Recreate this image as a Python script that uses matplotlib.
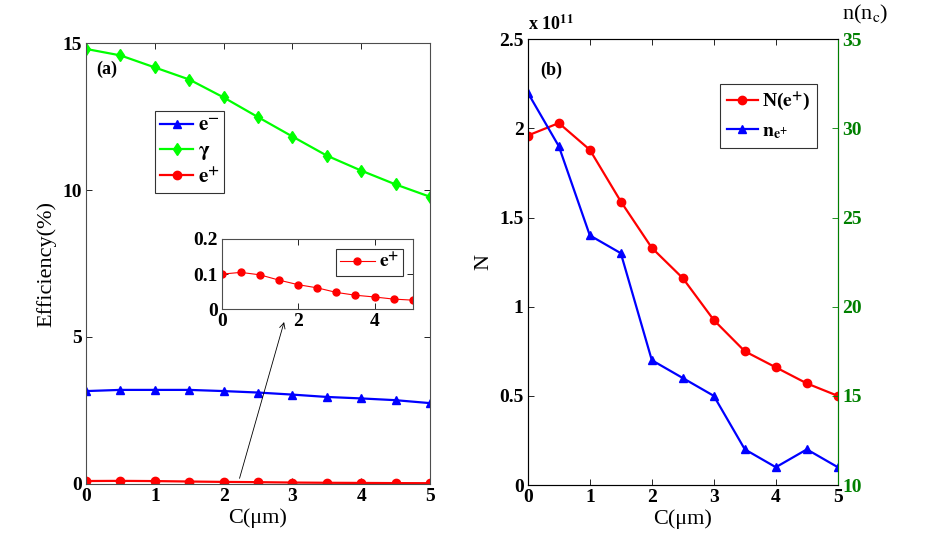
import matplotlib
matplotlib.use("Agg")
import matplotlib.pyplot as plt

plt.rcParams['font.family'] = ['Liberation Serif', 'DejaVu Serif']
plt.rcParams['mathtext.fontset'] = 'stix'
plt.rcParams['xtick.direction'] = 'in'
plt.rcParams['ytick.direction'] = 'in'

# data
C = [0, 0.5, 1, 1.5, 2, 2.5, 3, 3.5, 4, 4.5, 5]
eff_eminus = [3.16, 3.20, 3.20, 3.20, 3.16, 3.11, 3.04, 2.96, 2.91, 2.85, 2.75]
eff_gamma = [14.80, 14.58, 14.17, 13.76, 13.15, 12.48, 11.82, 11.17, 10.66, 10.19, 9.77]
eff_eplus = [0.100, 0.105, 0.098, 0.083, 0.070, 0.061, 0.048, 0.040, 0.035, 0.029, 0.026]
N_eplus = [1.96, 2.03, 1.88, 1.59, 1.33, 1.16, 0.925, 0.75, 0.66, 0.57, 0.50]  # x 1e11
n_eplus = [32, 29, 24, 23, 17, 16, 15, 12, 11, 12, 11]  # n_c

green = (0, 1, 0)
dgreen = (0, 0.5, 0)

fig = plt.figure(figsize=(9.26, 5.45), dpi=100)

def style(ax, size=14):
    for lab in ax.get_xticklabels() + ax.get_yticklabels():
        lab.set_fontweight('bold')
        lab.set_fontsize(size)
    ax.tick_params(top=True, right=True, length=4, width=0.6, pad=3)
    for s in ax.spines.values():
        s.set_linewidth(0.8)
        s.set_color('0.3')

# ---- panel (a)
ax1 = fig.add_axes([0.0929, 0.112, 0.3715, 0.809])
ax1.plot(C, eff_eminus, '-^', color='b', lw=1.6, ms=6, label='$\\mathbf{e^{-}}$')
ax1.plot(C, eff_gamma, '-d', color=green, lw=1.6, ms=6, label='$\\mathbf{\\gamma}$')
ax1.plot(C, eff_eplus, '-o', color='r', lw=1.6, ms=6, label='$\\mathbf{e^{+}}$')
ax1.set_xlim(0, 5)
ax1.set_ylim(0, 15)
ax1.set_xticks([0, 1, 2, 3, 4, 5])
ax1.set_yticks([0, 5, 10, 15])
ax1.set_xlabel('C(μm)', fontsize=16, labelpad=2)
ax1.set_ylabel('Efficiency(%)', fontsize=16, labelpad=4)
style(ax1)
ax1.text(0.03, 0.93, '(a)', transform=ax1.transAxes, fontsize=13, fontweight='bold')
leg = ax1.legend(loc='upper left', bbox_to_anchor=(0.2, 0.845), fancybox=False,
                 edgecolor='k', fontsize=15, handlelength=1.6, borderpad=0.25,
                 labelspacing=0.25, handletextpad=0.2, borderaxespad=0)
leg.get_frame().set_linewidth(0.8)
ax1.annotate('', xy=(2.89, 5.6), xytext=(2.22, 0.1),
             arrowprops=dict(arrowstyle='->', color='k', lw=0.6))

# inset
axi = fig.add_axes([0.2394, 0.4325, 0.2063, 0.129])
axi.plot(C, eff_eplus, '-o', color='r', lw=0.8, ms=5, label='$\\mathbf{e^{+}}$')
axi.set_xlim(0, 5)
axi.set_ylim(0, 0.2)
axi.set_xticks([0, 2, 4])
axi.set_yticks([0, 0.1, 0.2])
axi.set_yticklabels(['0', '0.1', '0.2'])
style(axi, 14)
legi = axi.legend(loc='upper right', fancybox=False, edgecolor='k', fontsize=14,
                  handlelength=1.8, borderpad=0.2, handletextpad=0.2)
legi.get_frame().set_linewidth(0.8)

# ---- panel (b)
ax2 = fig.add_axes([0.570, 0.110, 0.3348, 0.818])
l1, = ax2.plot(C, N_eplus, '-o', color='r', lw=1.6, ms=6, label='N($\\mathbf{e^{+}}$)')
ax2.set_xlim(0, 5)
ax2.set_ylim(0, 2.5)
ax2.set_xticks([0, 1, 2, 3, 4, 5])
ax2.set_yticks([0, 0.5, 1, 1.5, 2, 2.5])
ax2.set_yticklabels(['0', '0.5', '1', '1.5', '2', '2.5'])
ax2.set_xlabel('C(μm)', fontsize=16, labelpad=2)
ax2.set_ylabel('N', fontsize=16, labelpad=4)
style(ax2)
ax2.tick_params(right=False)
ax2.text(0.0, 1.012, 'x 10$^{\\mathbf{11}}$', transform=ax2.transAxes,
         fontsize=13, fontweight='bold', va='bottom')
ax2.text(0.04, 0.92, '(b)', transform=ax2.transAxes, fontsize=13, fontweight='bold')

ax3 = ax2.twinx()
l2, = ax3.plot(C, n_eplus, '-^', color='b', lw=1.6, ms=6, label='$\\mathbf{n_{e^{+}}}$')
ax3.set_ylim(10, 35)
ax3.set_yticks([10, 15, 20, 25, 30, 35])
for lab in ax3.get_yticklabels():
    lab.set_fontweight('bold')
    lab.set_fontsize(14)
    lab.set_color(dgreen)
ax3.tick_params(axis='y', direction='in', colors=dgreen, length=4, width=0.6, pad=3)
ax3.spines['right'].set_color(dgreen)
ax3.spines['right'].set_linewidth(0.8)
ax3.text(1.015, 1.03, 'n(n$_\\mathrm{c}$)', transform=ax3.transAxes, fontsize=16,
         va='bottom', ha='left')

leg2 = ax3.legend(handles=[l1, l2], loc='upper left', bbox_to_anchor=(0.62, 0.9),
                  fancybox=False, edgecolor='k', handlelength=1.6,
                  borderpad=0.35, labelspacing=0.5, handletextpad=0.2, borderaxespad=0,
                  prop={'weight': 'bold', 'size': 14})
leg2.get_frame().set_linewidth(0.8)

fig.savefig('out.png', dpi=100)
